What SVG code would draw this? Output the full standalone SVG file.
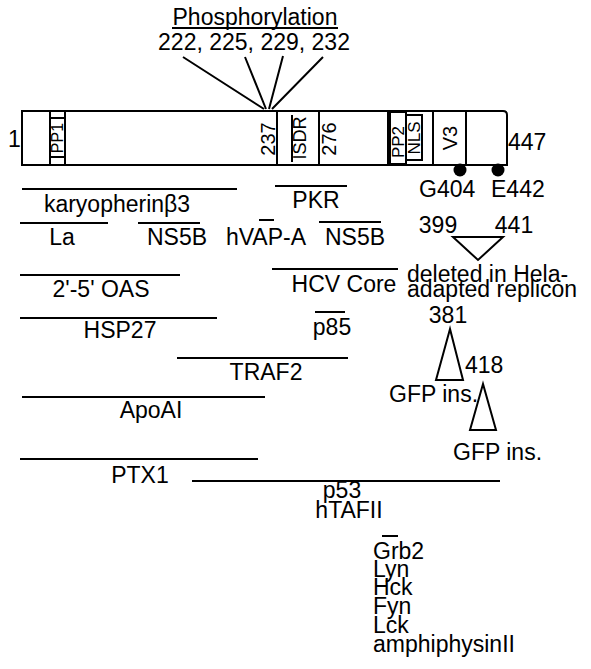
<svg xmlns="http://www.w3.org/2000/svg" width="591" height="669" viewBox="0 0 591 669">
<style>
text{font-family:"Liberation Sans",Arial,sans-serif;font-size:23px;fill:#000}
.m{text-anchor:middle}
.r{font-size:18px}
.ln{stroke:#000;stroke-width:2;fill:none}
.tri{stroke:#000;stroke-width:2;fill:#fff;stroke-linejoin:miter}
</style>
<rect width="591" height="669" fill="#fff"/>
<g id="protein">
<path class="ln" d="M22,111 H503 Q507,111 507,115 V165 H22 Z"/>
<path class="ln" d="M50,111 V165 M65,111 V165 M50,118 H65 M50,157 H65 M277,111 V165 M319,111 V165 M388,111 V165 M433,111 V165 M466,111 V165"/>
<rect class="ln" x="390" y="112" width="16" height="52"/>
<rect class="ln" x="406" y="115" width="16" height="45"/>
<line class="ln" x1="292" y1="115" x2="292" y2="162" stroke-width="1.5"/>
<text class="m r" transform="translate(63,138) rotate(-90)" style="font-size:16px">PP1</text>
<text class="m r" transform="translate(275,139) rotate(-90)" style="font-size:20px">237</text>
<text class="m r" transform="translate(306,138) rotate(-90)">ISDR</text>
<text class="m r" transform="translate(336,139) rotate(-90)" style="font-size:20px">276</text>
<text class="m r" transform="translate(404,142) rotate(-90)" style="font-size:17px">PP2</text>
<text class="m r" transform="translate(420,138) rotate(-90)" style="font-size:17px">NLS</text>
<text class="m r" transform="translate(457,138) rotate(-90)" style="font-size:20px">V3</text>
<text x="8" y="147">1</text>
<text x="508" y="150">447</text>
<circle cx="460" cy="170" r="6.5"/>
<circle cx="498" cy="170" r="6.5"/>
<text x="419" y="197">G404</text>
<text x="491" y="197">E442</text>
</g>
<g id="phosphorylation">
<text class="m" x="255" y="25">Phosphorylation</text>
<line class="ln" x1="172" y1="28" x2="338" y2="28" stroke-width="1.5"/>
<text class="m" x="254" y="50">222, 225, 229, 232</text>
</g>
<g id="connectors">
<path class="ln" d="M183,57 L264,109 M245,57 L266,109 M283,56 L269,109 M323,57 L272,109"/>
<path class="ln" d="M22,189 H237 M275,186 H347 M20,223 H108 M138,223 H200 M259,220 H274 M319,222 H381 M20,275 H180 M272,269 H398 M20,318 H217 M315,312 H345 M177,358 H348 M22,397 H265 M20,459 H258 M192,481 H500 M382,536 H398"/>
</g>
<g id="labels">
<text class="m" x="117" y="212">karyopherinβ3</text>
<text class="m" x="316" y="208">PKR</text>
<text class="m" x="62" y="245">La</text>
<text class="m" x="177" y="245">NS5B</text>
<text class="m" x="266" y="245">hVAP-A</text>
<text class="m" x="355" y="245">NS5B</text>
<text class="m" x="101" y="297">2'-5' OAS</text>
<text class="m" x="344" y="292">HCV Core</text>
<text class="m" x="120" y="338">HSP27</text>
<text class="m" x="332" y="335">p85</text>
<text class="m" x="266" y="380">TRAF2</text>
<text class="m" x="151" y="418">ApoAI</text>
<text class="m" x="140" y="483">PTX1</text>
<text class="m" x="342" y="498">p53</text>
<text class="m" x="349" y="518">hTAFII</text>
<text x="373" y="559">Grb2</text>
<text x="373" y="577">Lyn</text>
<text x="373" y="595">Hck</text>
<text x="373" y="614">Fyn</text>
<text x="373" y="633">Lck</text>
<text x="373" y="652">amphiphysinII</text>
</g>
<g id="deletion">
<text class="m" x="438" y="233">399</text>
<text class="m" x="514" y="233">441</text>
<polygon class="tri" points="453,237 503,237 478,260"/>
<text x="407" y="282">deleted in Hela-</text>
<text x="407" y="297">adapted replicon</text>
</g>
<g id="insertions">
<text class="m" x="448" y="323">381</text>
<polygon class="tri" points="450,329 436,380 463,380"/>
<text x="465" y="373">418</text>
<text x="389" y="402">GFP ins.</text>
<polygon class="tri" points="483,384 470,430 496,430"/>
<text x="453" y="460">GFP ins.</text>
</g>
</svg>
